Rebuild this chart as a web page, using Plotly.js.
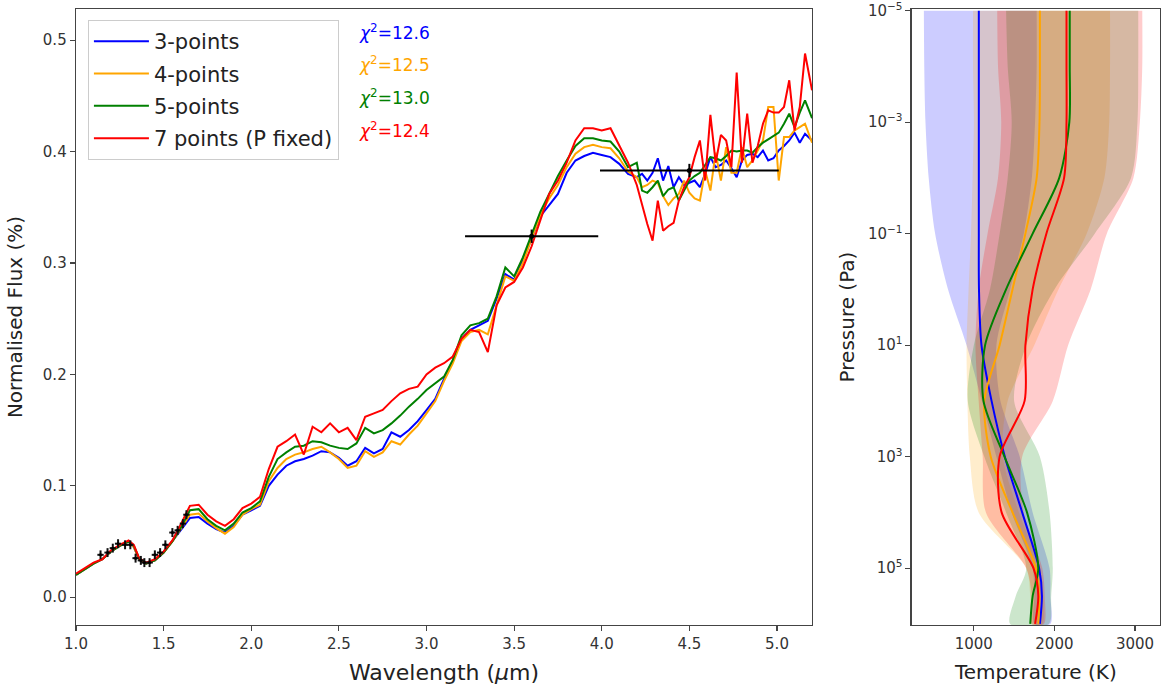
<!DOCTYPE html>
<html>
<head>
<meta charset="utf-8">
<script src="https://cdn.plot.ly/plotly-3.0.1.min.js"></script>
<style>html,body{margin:0;padding:0;background:#fff;}#chart{width:1161px;height:688px;}</style>
</head>
<body>
<div id="chart"></div>
<script>
// ---------- Spectrum (left panel) ----------
const wavelength = [1.00,1.05,1.10,1.15,1.20,1.25,1.30,1.33,1.36,1.40,1.45,1.50,1.55,1.60,1.65,1.70,1.75,1.80,1.85,1.90,1.95,2.00,2.05,2.10,2.15,2.20,2.25,2.30,2.35,2.40,2.45,2.50,2.55,2.60,2.65,2.70,2.75,2.80,2.85,2.90,2.95,3.00,3.05,3.10,3.15,3.20,3.25,3.30,3.35,3.40,3.45,3.50,3.55,3.60,3.65,3.70,3.75,3.80,3.85,3.90,3.95,4.00,4.05,4.10,4.15,4.20,4.23,4.26,4.29,4.32,4.35,4.38,4.41,4.44,4.47,4.50,4.53,4.56,4.59,4.62,4.65,4.68,4.71,4.74,4.77,4.80,4.83,4.86,4.89,4.92,4.95,4.98,5.01,5.04,5.07,5.10,5.13,5.16,5.20];

const flux3 = [0.020,0.025,0.030,0.034,0.041,0.046,0.050,0.045,0.034,0.030,0.033,0.040,0.050,0.060,0.071,0.072,0.066,0.061,0.058,0.064,0.074,0.078,0.082,0.100,0.110,0.118,0.122,0.124,0.127,0.131,0.130,0.125,0.118,0.122,0.134,0.129,0.133,0.148,0.144,0.150,0.158,0.168,0.178,0.196,0.212,0.232,0.240,0.244,0.248,0.268,0.290,0.285,0.302,0.322,0.342,0.352,0.362,0.381,0.392,0.396,0.399,0.397,0.395,0.389,0.380,0.377,0.380,0.374,0.381,0.394,0.374,0.387,0.368,0.377,0.370,0.372,0.374,0.368,0.380,0.395,0.386,0.388,0.392,0.385,0.377,0.392,0.397,0.398,0.395,0.401,0.392,0.394,0.401,0.405,0.410,0.417,0.408,0.416,0.410];

const flux4 = [0.020,0.025,0.030,0.034,0.041,0.046,0.050,0.045,0.034,0.030,0.033,0.040,0.050,0.062,0.074,0.075,0.068,0.062,0.057,0.063,0.074,0.079,0.083,0.104,0.116,0.124,0.128,0.130,0.133,0.135,0.130,0.124,0.116,0.118,0.131,0.126,0.130,0.140,0.137,0.146,0.154,0.165,0.176,0.194,0.210,0.230,0.238,0.240,0.236,0.262,0.288,0.284,0.300,0.322,0.343,0.358,0.370,0.386,0.398,0.404,0.406,0.404,0.403,0.394,0.382,0.377,0.368,0.370,0.374,0.372,0.360,0.352,0.358,0.362,0.374,0.363,0.358,0.356,0.383,0.365,0.399,0.374,0.404,0.381,0.381,0.404,0.386,0.392,0.401,0.410,0.440,0.440,0.374,0.413,0.413,0.419,0.422,0.425,0.408];

const flux5 = [0.020,0.025,0.030,0.034,0.041,0.046,0.050,0.046,0.035,0.030,0.033,0.040,0.050,0.063,0.078,0.079,0.070,0.064,0.060,0.066,0.076,0.080,0.086,0.108,0.124,0.130,0.135,0.136,0.140,0.139,0.136,0.134,0.133,0.138,0.152,0.147,0.150,0.156,0.163,0.171,0.178,0.186,0.192,0.198,0.213,0.235,0.244,0.246,0.250,0.270,0.296,0.288,0.305,0.325,0.346,0.362,0.378,0.392,0.405,0.412,0.412,0.410,0.409,0.400,0.386,0.390,0.365,0.363,0.368,0.374,0.360,0.366,0.368,0.356,0.365,0.374,0.378,0.381,0.388,0.395,0.394,0.392,0.396,0.401,0.400,0.401,0.401,0.399,0.404,0.408,0.411,0.414,0.417,0.425,0.434,0.422,0.435,0.446,0.430];

const flux7 = [0.021,0.026,0.031,0.034,0.042,0.047,0.051,0.047,0.035,0.031,0.034,0.041,0.051,0.066,0.082,0.083,0.074,0.068,0.064,0.070,0.080,0.084,0.090,0.115,0.135,0.140,0.146,0.128,0.153,0.148,0.156,0.148,0.152,0.141,0.162,0.165,0.168,0.176,0.183,0.187,0.189,0.200,0.206,0.210,0.216,0.232,0.240,0.238,0.220,0.262,0.278,0.283,0.296,0.315,0.338,0.362,0.374,0.390,0.410,0.421,0.421,0.419,0.421,0.406,0.390,0.370,0.352,0.335,0.320,0.356,0.329,0.333,0.336,0.356,0.368,0.377,0.395,0.410,0.374,0.433,0.390,0.415,0.410,0.386,0.471,0.390,0.434,0.390,0.405,0.425,0.437,0.435,0.435,0.440,0.464,0.419,0.440,0.488,0.455];

// Observations: HST/WFC3 points and Spitzer photometry
const wfc3Wl   = [1.14,1.18,1.21,1.24,1.28,1.31,1.34,1.37,1.39,1.42,1.45,1.48,1.51,1.55,1.58,1.61,1.63];
const wfc3Flux = [0.038,0.040,0.044,0.048,0.047,0.047,0.035,0.033,0.031,0.031,0.038,0.040,0.047,0.058,0.060,0.066,0.074];
const wfc3Err  = [0.004,0.004,0.004,0.004,0.004,0.004,0.004,0.004,0.004,0.004,0.004,0.004,0.004,0.004,0.004,0.004,0.004];
const spitzerWl    = [3.6, 4.5];
const spitzerFlux  = [0.324, 0.383];
const spitzerWidth = [0.38, 0.51];

const seriesNames = ['3-points','4-points','5-points','7 points (P fixed)'];
const seriesColors = ['#0000ff','#ffa500','#008000','#ff0000'];
const chiValues = ['12.6','12.5','13.0','12.4'];

// ---------- Temperature-pressure profiles (right panel) ----------
const pressure = [1e-5,1e-4,1e-3,1e-2,1e-1,1,10,100,1e3,1e4,1e5,3.16e5,1e6];
const temp3 = [1062,1062,1062,1062,1062,1064,1095,1220,1385,1600,1810,1845,1820];
const temp3Low  = [380,385,400,440,520,680,910,1100,1280,1470,1730,1750,1750];
const temp3High = [1780,1780,1760,1720,1620,1450,1280,1330,1570,1730,1940,1950,1950];

const temp4 = [1820,1820,1815,1780,1640,1480,1320,1130,1210,1480,1770,1810,1800];
const temp4Low  = [990,990,1000,985,965,935,910,920,950,1060,1650,1700,1720];
const temp4High = [2690,2690,2680,2620,2400,2050,1750,1420,1360,1560,1820,1860,1850];

const temp5 = [2190,2190,2185,2060,1730,1400,1140,1120,1380,1660,1800,1730,1700];
const temp5Low  = [1400,1420,1470,1420,1320,1200,1000,925,1130,1400,1650,1520,1450];
const temp5High = [3040,3040,3030,2950,2500,2000,1650,1500,1820,1940,1980,1960,1930];

const temp7 = [2150,2150,2150,2120,1900,1730,1640,1630,1320,1345,1740,1800,1760];
const temp7Low  = [1290,1300,1340,1300,1170,1060,1020,1060,1110,1150,1650,1720,1720];
const temp7High = [3090,3090,3060,2980,2650,2450,2170,1980,1600,1620,1850,1880,1870];

const fillColors = ['rgba(0,0,255,0.2)','rgba(255,165,0,0.2)','rgba(0,128,0,0.2)','rgba(255,0,0,0.2)'];

const FONT = 'DejaVu Sans, sans-serif';
const traces = [];
const fluxes = [flux3, flux4, flux5, flux7];
for (let i = 0; i < 4; i++) {
  traces.push({
    x: wavelength, y: fluxes[i], type: 'scatter', mode: 'lines',
    name: seriesNames[i], legendgroup: 'g' + i,
    line: {color: seriesColors[i], width: 2},
    xaxis: 'x', yaxis: 'y'
  });
}
traces.push({
  x: wfc3Wl, y: wfc3Flux, type: 'scatter', mode: 'markers', showlegend: false,
  marker: {color: '#000', size: 3},
  error_y: {type: 'data', array: wfc3Err, color: '#111', thickness: 2, width: 0},
  error_x: {type: 'constant', value: 0.018, color: '#111', thickness: 2, width: 0},
  xaxis: 'x', yaxis: 'y'
});
traces.push({
  x: spitzerWl, y: spitzerFlux, type: 'scatter', mode: 'markers', showlegend: false,
  marker: {color: '#000', size: 5},
  error_x: {type: 'data', array: spitzerWidth, color: '#000', thickness: 2, width: 0},
  error_y: {type: 'constant', value: 0.006, color: '#000', thickness: 2, width: 0},
  xaxis: 'x', yaxis: 'y'
});

const temps = [temp3, temp4, temp5, temp7];
const lows = [temp3Low, temp4Low, temp5Low, temp7Low];
const highs = [temp3High, temp4High, temp5High, temp7High];
for (let i = 0; i < 4; i++) {
  traces.push({
    x: lows[i].concat(highs[i].slice().reverse()),
    y: pressure.concat(pressure.slice().reverse()),
    type: 'scatter', mode: 'lines', fill: 'toself', fillcolor: fillColors[i],
    line: {width: 0, shape: 'spline', smoothing: 0.8}, showlegend: false,
    xaxis: 'x2', yaxis: 'y2'
  });
}
for (let i = 0; i < 4; i++) {
  traces.push({
    x: temps[i], y: pressure, type: 'scatter', mode: 'lines', showlegend: false,
    line: {color: seriesColors[i], width: 2, shape: 'spline', smoothing: 0.8},
    xaxis: 'x2', yaxis: 'y2'
  });
}

const axisCommon = {
  showline: true, mirror: true, linecolor: '#444', linewidth: 1.3,
  ticks: 'outside', ticklen: 5, tickcolor: '#444', tickwidth: 1.2,
  showgrid: false, zeroline: false, layer: 'above traces',
  ticklabeloverflow: 'allow',
  tickfont: {family: FONT, size: 15, color: '#333'}
};

const annotations = chiValues.map((v, i) => ({
  xref: 'paper', yref: 'paper', x: 0.259, y: [0.963, 0.910, 0.857, 0.804][i],
  xanchor: 'left', yanchor: 'middle', showarrow: false,
  text: '<i>χ</i><sup>2</sup>=' + v,
  font: {family: FONT, size: 17, color: seriesColors[i]}
}));

const layout = {
  width: 1161, height: 688,
  margin: {l: 76, r: 1, t: 9, b: 63},
  paper_bgcolor: '#fff', plot_bgcolor: '#fff',
  font: {family: FONT, color: '#222'},
  showlegend: true,
  legend: {
    x: 0.011, y: 0.982, xanchor: 'left', yanchor: 'top',
    bgcolor: 'rgba(255,255,255,0.9)', bordercolor: '#cccccc', borderwidth: 1,
    font: {family: FONT, size: 21, color: '#222'},
    tracegroupgap: 2, traceorder: 'grouped', itemwidth: 55
  },
  xaxis: Object.assign({}, axisCommon, {
    domain: [0, 0.679], range: [1.0, 5.2],
    tickvals: [1.0,1.5,2.0,2.5,3.0,3.5,4.0,4.5,5.0],
    ticktext: ['1.0','1.5','2.0','2.5','3.0','3.5','4.0','4.5','5.0'],
    title: {text: 'Wavelength (<i>μ</i>m)', font: {family: FONT, size: 22, color: '#222'}, standoff: 12}
  }),
  yaxis: Object.assign({}, axisCommon, {
    range: [-0.025, 0.528],
    tickvals: [0.0,0.1,0.2,0.3,0.4,0.5],
    ticktext: ['0.0','0.1','0.2','0.3','0.4','0.5'],
    title: {text: 'Normalised Flux (%)', font: {family: FONT, size: 20, color: '#222'}, standoff: 14}
  }),
  xaxis2: Object.assign({}, axisCommon, {
    domain: [0.771, 1], range: [230, 3310], anchor: 'y2',
    tickvals: [1000, 2000, 3000],
    title: {text: 'Temperature (K)', font: {family: FONT, size: 20, color: '#222'}, standoff: 12}
  }),
  yaxis2: Object.assign({}, axisCommon, {
    type: 'log', range: [6.02, -5.03], anchor: 'x2',
    tickvals: [1e-5, 1e-3, 1e-1, 1e1, 1e3, 1e5],
    ticktext: ['10<sup>−5</sup>','10<sup>−3</sup>','10<sup>−1</sup>','10<sup>1</sup>','10<sup>3</sup>','10<sup>5</sup>'],
    title: {text: 'Pressure (Pa)', font: {family: FONT, size: 20, color: '#222'}, standoff: 8}
  }),
  annotations: annotations
};

Plotly.newPlot('chart', traces, layout, {staticPlot: true, displayModeBar: false});
</script>
</body>
</html>
